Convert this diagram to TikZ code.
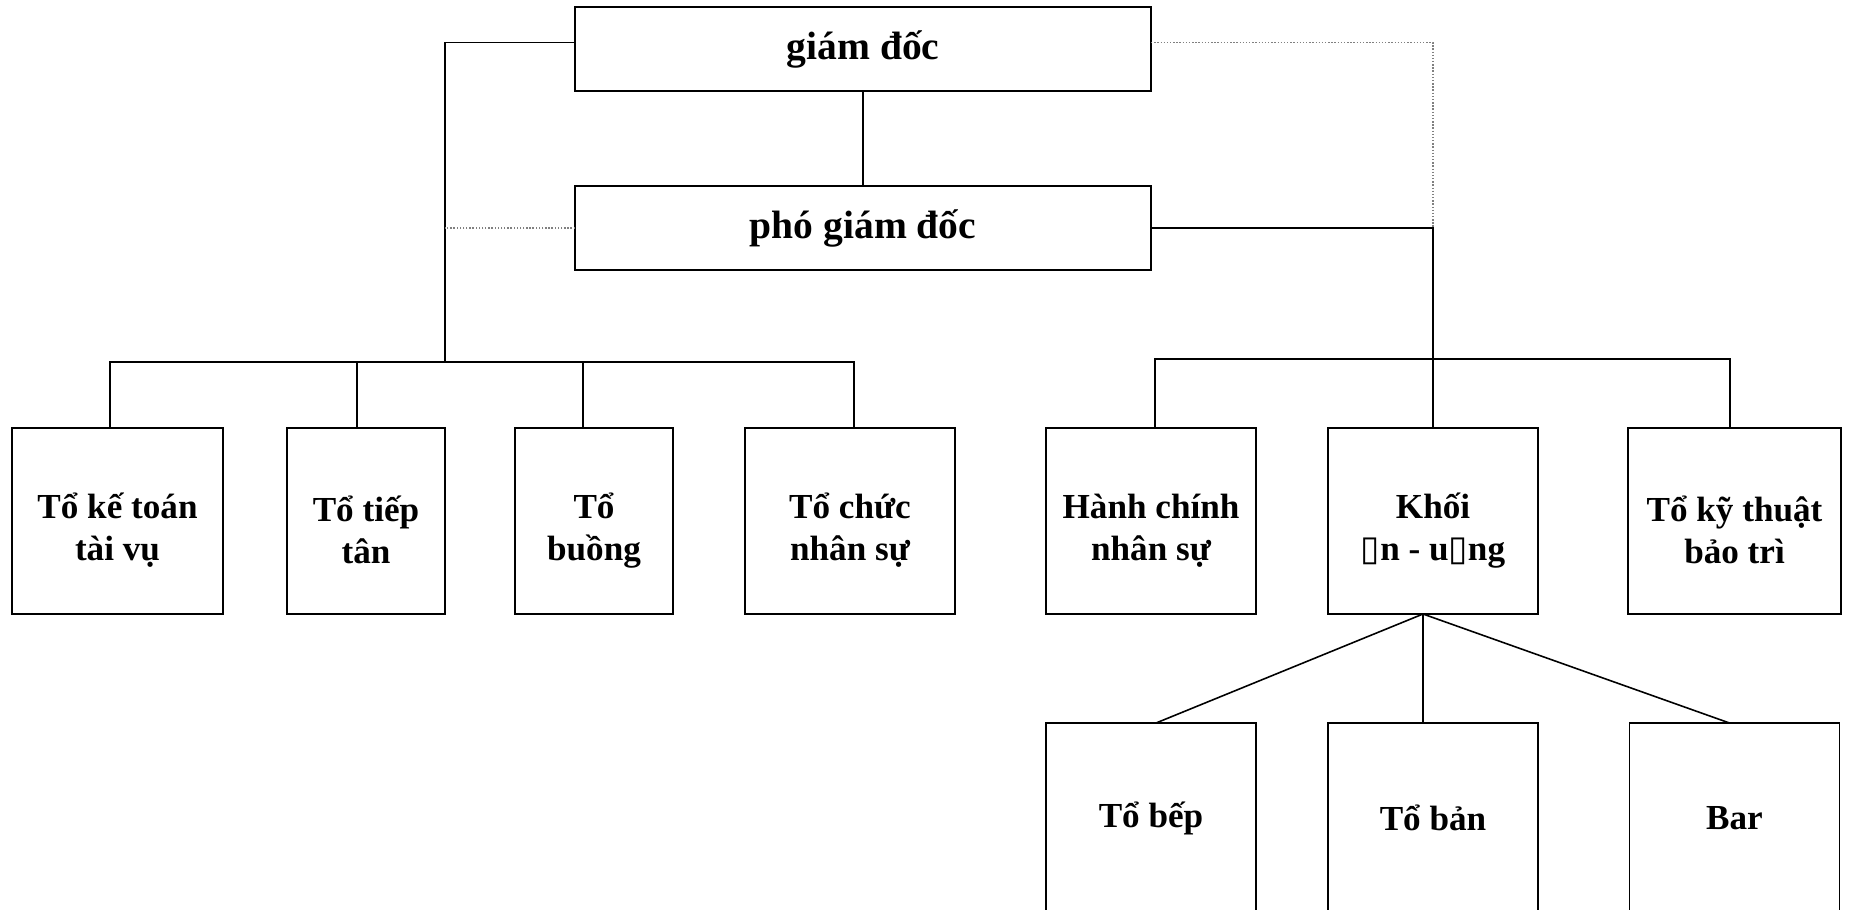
\documentclass[tikz,border=0pt]{standalone}
\usepackage{fontspec}
\setmainfont{Liberation Serif}
\newfontfamily\symfont{DejaVu Sans}
\usetikzlibrary{positioning}
\newcommand{\nochar}{{\symfont\mdseries ▯}}
\newcommand{\lowtext}{\rule{0pt}{25pt}}
\tikzset{
    head/.style = {
        draw,
        line width=1pt,
        outer sep=0pt,
        minimum width=11.52cm,
        minimum height=1.68cm,
        font=\fontsize{22.5}{26}\selectfont\bfseries,
        },
    unit/.style = {
        draw,
        line width=1pt,
        outer sep=0pt,
        minimum width=4.2cm,
        minimum height=3.72cm,
        align=center,
        font=\fontsize{20}{24}\selectfont\bfseries,
        },
    narrow/.style = {
        minimum width=3.16cm,
        },
    low/.style = {
        minimum height=3.8cm,
        },
    link/.style = {
        line width=0.9pt,
        },
    dotted link/.style = {
        densely dotted,
        line width=0.8pt,
        gray,
        },
}

\begin{document}
\begin{tikzpicture}
            \useasboundingbox (0,0) rectangle (36.98,-18.18);
            \node[head] (gd) at (17.26,-0.98) {giám đốc};
            \node[head, below=1.9cm of gd] (pgd) {phó giám đốc};

            \node[unit, minimum width=4.22cm] (ketoan) at (2.35,-10.42) {\lowtext Tổ kế toán\\tài vụ};
            \node[unit, narrow, right=1.28cm of ketoan] (tieptan) {\lowtext Tổ tiếp\\tân};
            \node[unit, narrow, right=1.4cm of tieptan] (buong) {\lowtext Tổ\\buồng};
            \node[unit, right=1.44cm of buong] (nhansu) {\lowtext Tổ chức\\nhân sự};
            \node[unit, right=1.82cm of nhansu] (hanhchinh) {\lowtext Hành chính\\nhân sự};
            \node[unit, right=1.44cm of hanhchinh] (anuong) {\lowtext Khối\\\nochar n - u\nochar ng};
            \node[unit, minimum width=4.26cm, right=1.8cm of anuong] (kythuat) {\lowtext Tổ kỹ thuật\\bảo trì};

            \node[unit, low, below=2.18cm of hanhchinh] (bep) {Tổ bếp};
            \node[unit, low, below=2.18cm of anuong] (ban) {Tổ bản};
            \node[unit, low, below=2.18cm of kythuat] (bar) {Bar};

            \coordinate (lbus) at (8.9,-7.24);
            \coordinate (rbus) at (28.68,-7.18);
            \coordinate (rjoin) at (anuong.north |- pgd.east);
            \coordinate (apex) at ([xshift=-0.2cm]anuong.south);

            % left side
            \draw[link] ([yshift=0.13cm]gd.west) -| (lbus);
            \draw[dotted link] (pgd.west) -- (pgd.west -| lbus);
            \draw[link] (gd) -- (pgd);
            \draw[link] ([xshift=-0.15cm]ketoan.north) |- (lbus) -| ([xshift=0.08cm]nhansu.north);
            \draw[link] ([xshift=-0.18cm]tieptan.north) -- ([xshift=-0.18cm]tieptan.north |- lbus);
            \draw[link] ([xshift=-0.22cm]buong.north) -- ([xshift=-0.22cm]buong.north |- lbus);

            % right side
            \draw[dotted link] ([yshift=0.13cm]gd.east) -| (rjoin);
            \draw[link] (pgd.east) -- (rjoin) -- (anuong.north);
            \draw[link] ([xshift=0.08cm]hanhchinh.north) |- (rbus) -| ([xshift=-0.09cm]kythuat.north);

            \draw[link] ([xshift=0.1cm]bep.north) -- (apex) -- ([xshift=-0.1cm]bar.north);
            \draw[link] (apex) -- (apex |- ban.north);
        \end{tikzpicture}
\end{document}
